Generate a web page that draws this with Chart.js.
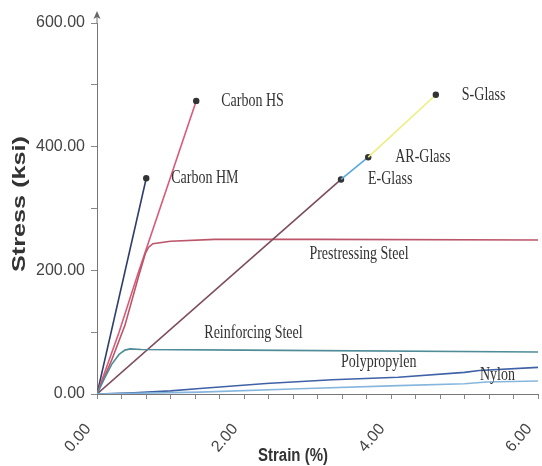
<!DOCTYPE html>
<html>
<head>
<meta charset="utf-8">
<script src="https://cdn.jsdelivr.net/npm/chart.js@4/dist/chart.umd.min.js"></script>
<style>
  html, body { margin: 0; padding: 0; background: #ffffff; }
  #wrap { width: 542px; height: 466px; position: relative; }
</style>
</head>
<body>
<div id="wrap"><canvas id="c" width="542" height="466"></canvas></div>
<script>
// ---- Data (strain %, stress ksi) ----
const xTickLabels = ['0.00', '2.00', '4.00', '6.00'];
const yTickLabels = ['0.00', '200.00', '400.00', '600.00'];

const carbonHMStrain = [0, 0.67];
const carbonHMStress = [0, 349];

const carbonHSStrain = [0, 0.3, 0.55, 1.35];
const carbonHSStress = [0, 100, 192, 474];

const prestressStrain = [0, 0.2, 0.38, 0.57, 0.66, 0.70, 0.76, 1.0, 1.6, 3.0, 6.0];
const prestressStress = [0, 55, 111, 192, 228, 237, 243, 247, 250, 250, 249];

const eGlassStrain = [0, 3.32];
const eGlassStress = [0, 347];

const arGlassStrain = [3.32, 3.69];
const arGlassStress = [347, 383];

const sGlassStrain = [3.69, 4.61];
const sGlassStress = [383, 484];

const reinfStrain = [0, 0.1, 0.2, 0.3, 0.38, 0.45, 0.6, 2.0, 6.0];
const reinfStress = [0, 25, 48, 64, 71, 73, 72, 71, 68];

const polyStrain = [0, 0.5, 1.0, 1.4, 2.3, 3.2, 4.1, 5.0, 5.2, 6.0];
const polyStress = [0, 2, 5, 9, 17, 23, 27, 35, 38, 43];

const nylonStrain = [0, 1.4, 2.75, 4.1, 5.0, 5.3, 6.0];
const nylonStress = [0, 3, 8.5, 13.5, 16.5, 19.5, 21];

function pts(xs, ys) { return xs.map((x, i) => ({ x: x, y: ys[i] })); }

function series(label, xs, ys, color, marker) {
  return {
    label: label,
    data: pts(xs, ys),
    showLine: true,
    borderColor: color,
    backgroundColor: '#333333',
    borderWidth: 1.6,
    tension: 0,
    pointRadius: (ctx) => (marker && ctx.dataIndex === xs.length - 1) ? 3.2 : 0,
    pointBorderWidth: 0,
    pointBackgroundColor: '#333333',
    pointBorderColor: '#333333'
  };
}

const datasets = [
  series('Nylon', nylonStrain, nylonStress, '#86b6de', false),
  series('Polypropylen', polyStrain, polyStress, '#3f62a6', false),
  series('Reinforcing Steel', reinfStrain, reinfStress, '#4f8c98', false),
  series('S-Glass', sGlassStrain, sGlassStress, '#eeee80', true),
  series('AR-Glass', arGlassStrain, arGlassStress, '#5aa8dc', true),
  series('E-Glass', eGlassStrain, eGlassStress, '#7d4b5e', true),
  series('Prestressing Steel', prestressStrain, prestressStress, '#bb5569', false),
  series('Carbon HS', carbonHSStrain, carbonHSStress, '#d95b7a', true),
  series('Carbon HM', carbonHMStrain, carbonHMStress, '#2f3c6c', true)
];

// Text annotations: name of dataset + offset in px, or a free data position
const annotations = [
  { text: 'Carbon HS', dataset: 'Carbon HS', dx: 25 },
  { text: 'Carbon HM', dataset: 'Carbon HM', dx: 25 },
  { text: 'S-Glass', dataset: 'S-Glass', dx: 26 },
  { text: 'AR-Glass', dataset: 'AR-Glass', dx: 27 },
  { text: 'E-Glass', dataset: 'E-Glass', dx: 27 },
  { text: 'Prestressing Steel', at: [2.89, 226] },
  { text: 'Reinforcing Steel', at: [1.46, 98] },
  { text: 'Polypropylen', at: [3.32, 51] },
  { text: 'Nylon', at: [5.21, 30] }
];

const decor = {
  id: 'decor',
  afterDraw(chart) {
    const ctx = chart.ctx;
    const xs = chart.scales.x, ys = chart.scales.y;
    const area = chart.chartArea;
    ctx.save();
    // y-axis arrow
    const ax = xs.getPixelForValue(0);
    ctx.strokeStyle = '#777';
    ctx.fillStyle = '#666';
    ctx.lineWidth = 1;
    ctx.beginPath();
    ctx.moveTo(ax, area.top);
    ctx.lineTo(ax, area.top - 10);
    ctx.stroke();
    ctx.beginPath();
    ctx.moveTo(ax, area.top - 12);
    ctx.lineTo(ax - 3.5, area.top - 4);
    ctx.lineTo(ax, area.top - 6);
    ctx.lineTo(ax + 3.5, area.top - 4);
    ctx.closePath();
    ctx.fill();

    // annotations
    ctx.fillStyle = '#333';
    ctx.font = '14px "Liberation Serif", "Times New Roman", serif';
    ctx.textBaseline = 'middle';
    ctx.textAlign = 'left';
    annotations.forEach(a => {
      let px, py;
      if (a.dataset) {
        const ds = chart.data.datasets.find(d => d.label === a.dataset);
        const last = ds.data[ds.data.length - 1];
        px = xs.getPixelForValue(last.x) + a.dx;
        py = ys.getPixelForValue(last.y);
      } else {
        px = xs.getPixelForValue(a.at[0]);
        py = ys.getPixelForValue(a.at[1]);
      }
      ctx.save();
      ctx.translate(px, py);
      ctx.scale(1, 1.3);
      ctx.fillText(a.text, 0, 0);
      ctx.restore();
    });

    // axis titles
    ctx.fillStyle = '#333';
    ctx.font = 'bold 15px "Liberation Sans", Arial, sans-serif';
    ctx.textAlign = 'center';
    ctx.textBaseline = 'middle';
    ctx.save();
    ctx.translate(293, 456);
    ctx.scale(1, 1.2);
    ctx.fillText('Strain (%)', 0, 0);
    ctx.restore();

    ctx.save();
    ctx.translate(20, 204);
    ctx.rotate(-Math.PI / 2);
    ctx.font = 'bold 18px "Liberation Sans", Arial, sans-serif';
    const w = ctx.measureText('Stress (ksi)').width;
    ctx.scale(136 / w, 1);
    ctx.fillText('Stress (ksi)', 0, 0);
    ctx.restore();
    ctx.restore();
  }
};

new Chart(document.getElementById('c'), {
  type: 'scatter',
  data: { datasets: datasets },
  options: {
    responsive: false,
    animation: false,
    events: [],
    layout: { padding: { left: 0, right: 2, top: 23, bottom: 0 } },
    plugins: { legend: { display: false }, tooltip: { enabled: false } },
    scales: {
      x: {
        type: 'linear',
        min: 0, max: 6,
        afterBuildTicks: (scale) => {
          const t = [];
          for (let i = 0; i <= 18; i++) t.push({ value: i / 3 });
          scale.ticks = t;
        },
        afterFit: (scale) => { scale.height = 72; scale.paddingLeft = 0; scale.paddingRight = 0; },
        ticks: {
          autoSkip: false,
          minRotation: 50, maxRotation: 50,
          padding: 21,
          labelOffset: -9,
          color: '#444',
          font: { family: '"Liberation Sans", Arial, sans-serif', size: 16 },
          callback: (v, i) => (i % 6 === 0 ? xTickLabels[i / 6] : '')
        },
        grid: { display: true, drawOnChartArea: false, drawTicks: true, tickLength: 5, color: '#888' },
        border: { display: true, color: '#777', width: 1 },
        title: { display: false }
      },
      y: {
        type: 'linear',
        min: 0, max: 600,
        afterFit: (scale) => { scale.width = 97; },
        ticks: {
          stepSize: 100,
          padding: 6,
          color: '#444',
          font: { family: '"Liberation Sans", Arial, sans-serif', size: 16 },
          callback: (v) => (v % 200 === 0 ? yTickLabels[v / 200] : '')
        },
        grid: { display: true, drawOnChartArea: false, drawTicks: true, tickLength: 6, color: '#888' },
        border: { display: true, color: '#777', width: 1 },
        title: { display: false }
      }
    }
  },
  plugins: [decor]
});
</script>
</body>
</html>
